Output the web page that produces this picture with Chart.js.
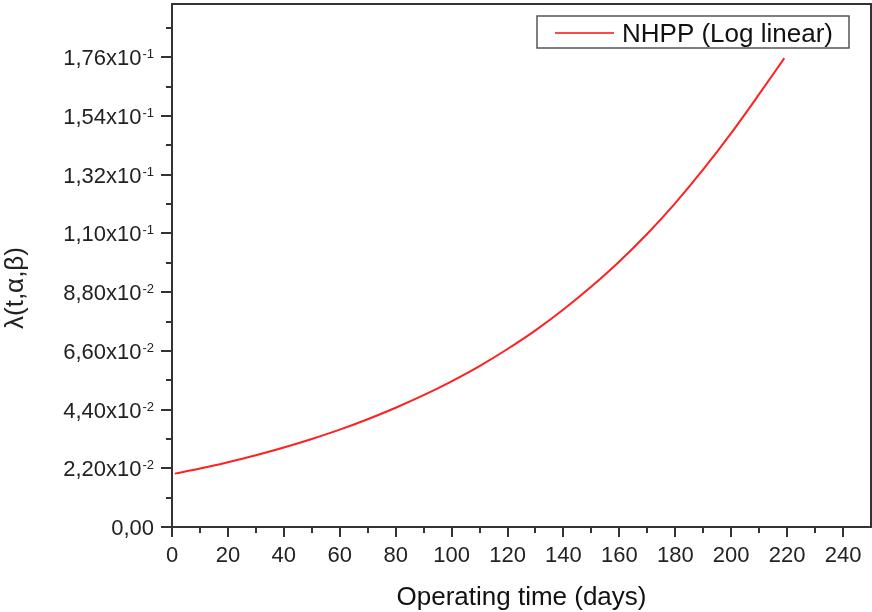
<!DOCTYPE html>
<html>
<head>
<meta charset="utf-8">
<script src="https://cdn.jsdelivr.net/npm/chart.js@4.4.1/dist/chart.umd.min.js"></script>
<style>
  html, body { margin: 0; padding: 0; background: #fff; }
  #wrap { width: 872px; height: 612px; }
</style>
</head>
<body>
<div id="wrap"><canvas id="myChart"></canvas></div>
<script>
// values
let days = [1, 10, 20, 30, 40, 50, 60, 70, 80, 90, 100, 110, 120, 130, 140, 150, 160, 170, 180, 190, 200, 210, 219];
let rate = [0.0200, 0.0219, 0.0243, 0.0269, 0.0298, 0.0330, 0.0365, 0.0404, 0.0447, 0.0494, 0.0546, 0.0603, 0.0667, 0.0737, 0.0815, 0.0901, 0.0995, 0.1099, 0.1214, 0.1340, 0.1476, 0.1622, 0.1757];

let xTicks = [0, 20, 40, 60, 80, 100, 120, 140, 160, 180, 200, 220, 240];
let xMinor = [10, 30, 50, 70, 90, 110, 130, 150, 170, 190, 210, 230];
let yTicks = [0, 0.022, 0.044, 0.066, 0.088, 0.110, 0.132, 0.154, 0.176];
let yMinor = [0.011, 0.033, 0.055, 0.077, 0.099, 0.121, 0.143, 0.165, 0.187];
let yMantissa = ['0,00', '2,20x10', '4,40x10', '6,60x10', '8,80x10', '1,10x10', '1,32x10', '1,54x10', '1,76x10'];
let yExponent = ['', '-2', '-2', '-2', '-2', '-1', '-1', '-1', '-1'];

let seriesName = 'NHPP (Log linear)';
let xTitle = 'Operating time (days)';
let yTitle = '\u03bb(t,\u03b1,\u03b2)';

let fontName = '"Liberation Sans", Arial, sans-serif';
let axisColor = '#333';
let lineColor = '#ff2020';

let points = [];
for (let i = 0; i < days.length; i++) {
  points.push({x: days[i], y: rate[i]});
}

// frame, ticks, y labels, y title and legend
let decorations = {
  id: 'decorations',
  afterDraw(chart) {
    let ctx = chart.ctx;
    let area = chart.chartArea;
    let xs = chart.scales.x;
    let ys = chart.scales.y;
    ctx.save();

    ctx.strokeStyle = axisColor;
    ctx.lineWidth = 2;
    ctx.strokeRect(area.left, area.top, area.right - area.left, area.bottom - area.top);

    ctx.beginPath();
    xTicks.forEach(v => {
      let px = Math.round(xs.getPixelForValue(v));
      ctx.moveTo(px, area.bottom);
      ctx.lineTo(px, area.bottom + 10);
    });
    xMinor.forEach(v => {
      let px = Math.round(xs.getPixelForValue(v));
      ctx.moveTo(px, area.bottom);
      ctx.lineTo(px, area.bottom + 6);
    });
    yTicks.forEach(v => {
      let py = Math.round(ys.getPixelForValue(v));
      ctx.moveTo(area.left, py);
      ctx.lineTo(area.left - 11, py);
    });
    yMinor.forEach(v => {
      let py = Math.round(ys.getPixelForValue(v));
      ctx.moveTo(area.left, py);
      ctx.lineTo(area.left - 6, py);
    });
    ctx.stroke();

    // y tick labels with superscript exponent
    ctx.fillStyle = '#222';
    ctx.textBaseline = 'alphabetic';
    let rightEdge = area.left - 18;
    yTicks.forEach((v, i) => {
      let py = ys.getPixelForValue(v);
      ctx.font = '13px ' + fontName;
      let ew = yExponent[i] ? ctx.measureText(yExponent[i]).width : 0;
      if (yExponent[i]) {
        ctx.textAlign = 'left';
        ctx.fillText(yExponent[i], rightEdge - ew, py + 1);
      }
      ctx.font = '22px ' + fontName;
      ctx.textAlign = 'right';
      ctx.fillText(yMantissa[i], rightEdge - ew - (ew ? 1 : 0), py + 8);
    });

    // y title
    ctx.save();
    ctx.translate(23, 288);
    ctx.rotate(-Math.PI / 2);
    ctx.font = '26px ' + fontName;
    ctx.textAlign = 'center';
    ctx.textBaseline = 'alphabetic';
    ctx.fillText(yTitle, 0, 0);
    ctx.restore();

    // legend box
    ctx.fillStyle = '#fff';
    ctx.fillRect(537, 16, 312, 32);
    ctx.strokeStyle = '#555';
    ctx.lineWidth = 1.5;
    ctx.strokeRect(537, 16, 312, 32);
    ctx.strokeStyle = '#ff4848';
    ctx.lineWidth = 2;
    ctx.beginPath();
    ctx.moveTo(555, 33);
    ctx.lineTo(614, 33);
    ctx.stroke();
    ctx.fillStyle = '#111';
    ctx.font = '26px ' + fontName;
    ctx.textAlign = 'left';
    ctx.fillText(seriesName, 622, 42);

    ctx.restore();
  }
};

let ctx = document.getElementById('myChart');
let myChart = new Chart(ctx, {
  type: 'line',
  data: {
    datasets: [{
      label: seriesName,
      data: points,
      borderColor: lineColor,
      borderWidth: 2,
      pointRadius: 0,
      fill: false,
      cubicInterpolationMode: 'monotone'
    }]
  },
  options: {
    responsive: true,
    maintainAspectRatio: false,
    animation: false,
    layout: {padding: {left: 0, top: 4, right: 1, bottom: 0}},
    plugins: {
      legend: {display: false},
      tooltip: {enabled: false}
    },
    scales: {
      x: {
        type: 'linear',
        min: 0,
        max: 250,
        grid: {display: false},
        border: {display: false},
        afterBuildTicks: scale => { scale.ticks = xTicks.map(v => ({value: v})); },
        afterFit: scale => { scale.height = 85; },
        ticks: {
          autoSkip: false,
          maxRotation: 0,
          padding: 8,
          color: '#222',
          font: {family: fontName, size: 22}
        },
        title: {
          display: true,
          text: xTitle,
          color: '#111',
          font: {family: fontName, size: 26, lineHeight: 1},
          padding: {top: 0, bottom: 1}
        }
      },
      y: {
        type: 'linear',
        min: 0,
        max: 0.196,
        grid: {display: false},
        border: {display: false},
        afterBuildTicks: scale => { scale.ticks = yTicks.map(v => ({value: v})); },
        afterFit: scale => { scale.width = 172; },
        ticks: {display: false}
      }
    }
  },
  plugins: [decorations]
});
</script>
</body>
</html>
